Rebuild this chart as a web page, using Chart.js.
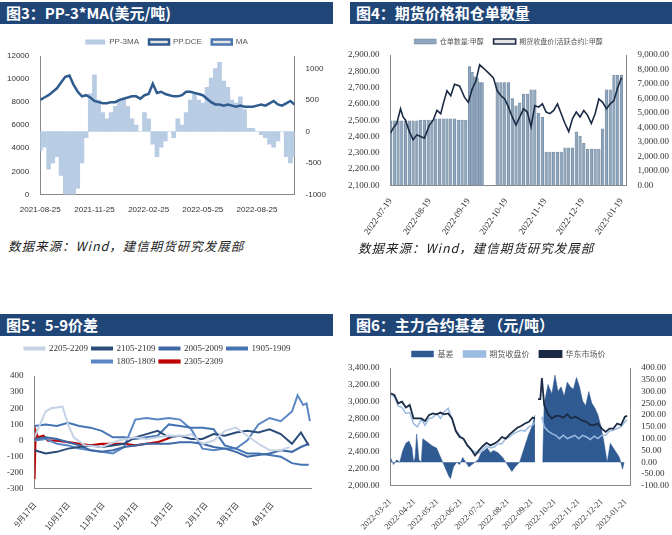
<!DOCTYPE html>
<html>
<head>
<meta charset="utf-8">
<script src="https://cdn.jsdelivr.net/npm/chart.js@4.4.0/dist/chart.umd.min.js"></script>
<style>
  body { margin: 0; width: 672px; height: 535px; background: #fff; position: relative; overflow: hidden; font-family: "Noto Sans CJK SC", sans-serif; }
  .bar { position: absolute; height: 22px; background: #1f4677; color: #fff; font-weight: bold; font-size: 15px; line-height: 22px; padding-left: 6px; box-sizing: border-box; }
  .src { position: absolute; font-size: 12.5px; font-style: italic; color: #222; letter-spacing: 1px; }
  .box { position: absolute; }
</style>
</head>
<body>
<div class="bar" style="left:0;top:2px;width:333px">图3：PP-3*MA(美元/吨)</div>
<div class="bar" style="left:350px;top:2px;width:322px">图4：期货价格和仓单数量</div>
<div class="bar" style="left:0;top:314px;width:333px">图5：5-9价差</div>
<div class="bar" style="left:350px;top:314px;width:322px">图6：主力合约基差 （元/吨）</div>
<div class="box" style="left:0;top:28px;width:333px;height:190px"><canvas id="c1"></canvas></div>
<div class="box" style="left:345px;top:28px;width:327px;height:212px"><canvas id="c2"></canvas></div>
<div class="box" style="left:0;top:340px;width:333px;height:195px"><canvas id="c3"></canvas></div>
<div class="box" style="left:345px;top:340px;width:327px;height:195px"><canvas id="c4"></canvas></div>
<div class="src" style="left:8px;top:236px">数据来源：Wind，建信期货研究发展部</div>
<div class="src" style="left:358px;top:238px">数据来源：Wind，建信期货研究发展部</div>
<script>
// ---------- 图3 data (weekly index from 2021-08-25) ----------
const ppTickWeeks = [0, 13, 26, 39, 52];
const ppTickLabels = ["2021-08-25", "2021-11-25", "2022-02-25", "2022-05-25", "2022-08-25"];
const ppDce = [8200, 8400, 8600, 8900, 9200, 9700, 10200, 10300, 9500, 8900, 8500, 8600, 8400, 8100, 8000, 7900, 7900, 8000, 8000, 8200, 8300, 8400, 8500, 8500, 8300, 8600, 8700, 9600, 8800, 8900, 8700, 8600, 8500, 8500, 8600, 8900, 8900, 8800, 8700, 8600, 8300, 8000, 7800, 7800, 7700, 7800, 7700, 7600, 7700, 7600, 7600, 7600, 7700, 7800, 7700, 7900, 8100, 7800, 7700, 7900, 8100, 7800];
const pp3ma = [-300, -250, -600, -500, -400, -700, -1000, -1000, -1000, -900, -500, -100, 600, 900, 500, 300, 200, 300, 400, 500, 500, 400, 200, 100, 0, 300, 200, -200, -400, -250, -150, 0, -100, 200, 100, 300, 500, 600, 500, 450, 700, 850, 1000, 1100, 800, 700, 500, 450, 550, 350, 50, 50, 0, -50, -100, -200, -250, -150, 0, -400, -500, -400];

// ---------- 图4 data (day offset from 2022-07-19) ----------
const whTickDays = [0, 31, 62, 92, 123, 153, 184];
const whTickLabels = ["2022-07-19", "2022-08-19", "2022-09-19", "2022-10-19", "2022-11-19", "2022-12-19", "2023-01-19"];
const whBarDays = [0, 3, 6, 9, 12, 15, 18, 21, 24, 27, 30, 33, 36, 39, 42, 45, 48, 51, 54, 57, 60, 63, 65, 67, 69, 71, 73, 85, 88, 91, 94, 97, 100, 103, 106, 109, 112, 115, 118, 121, 124, 127, 130, 133, 136, 139, 142, 145, 148, 151, 154, 157, 160, 163, 166, 169, 172, 175, 178, 181, 184];
const whBars = [4450, 4450, 4450, 4450, 4450, 4450, 4450, 4450, 4500, 4500, 4500, 4500, 4600, 4600, 4600, 4600, 4600, 4600, 4500, 4500, 4500, 8200, 7800, 7500, 7400, 7100, 7100, 7100, 7100, 7100, 7100, 6000, 5500, 5700, 6300, 6300, 6600, 6600, 5000, 4700, 2300, 2300, 2300, 2300, 2300, 2600, 2600, 2600, 3700, 3400, 2900, 2500, 2500, 2500, 2500, 3900, 6600, 6600, 7600, 7600, 7600];
const whLineDays = [0, 2, 5, 8, 10, 12, 15, 18, 21, 24, 27, 31, 34, 37, 40, 42, 45, 48, 51, 55, 59, 62, 65, 68, 71, 74, 78, 82, 85, 88, 91, 94, 97, 100, 103, 106, 109, 112, 115, 118, 121, 124, 127, 130, 133, 136, 139, 142, 145, 148, 151, 154, 157, 160, 163, 166, 169, 172, 175, 178, 181, 184];
const whLine = [2420, 2450, 2480, 2570, 2520, 2500, 2430, 2380, 2410, 2400, 2390, 2470, 2500, 2560, 2540, 2600, 2680, 2650, 2720, 2710, 2640, 2610, 2690, 2740, 2840, 2820, 2790, 2760, 2680, 2650, 2630, 2580, 2520, 2470, 2520, 2570, 2550, 2460, 2590, 2580, 2600, 2550, 2540, 2560, 2600, 2540, 2480, 2430, 2510, 2550, 2520, 2560, 2530, 2480, 2540, 2630, 2610, 2570, 2600, 2620, 2700, 2760];

// ---------- 图5 data (day offset from 9月17日) ----------
const sprTickDays = [0, 30, 61, 91, 122, 153, 181, 212];
const sprTickLabels = ["9月17日", "10月17日", "11月17日", "12月17日", "1月17日", "2月17日", "3月17日", "4月17日"];
const d2205 = [0, 5, 10, 15, 25, 30, 35, 45, 60, 75, 90, 100, 110, 120, 135, 140, 150, 160, 170, 180, 190, 200, 210, 220, 228];
const s2205 = [20, 100, 180, 200, 210, 100, 20, -30, -40, 0, 20, 10, 20, 30, 30, 40, -20, 0, 60, 80, 30, -20, -60, -60, -40];
const dStd = [0, 10, 20, 30, 40, 50, 60, 70, 80, 90, 100, 110, 120, 130, 140, 150, 160, 170, 180, 190, 200, 210, 220, 230, 238, 245];
const s2105 = [-60, -80, -70, -50, -40, -30, -40, -30, -20, 20, 40, 60, 20, 30, 10, 10, 40, 30, 50, 60, 50, 70, 40, -20, 50, -30];
const s2005 = [10, 20, 10, -10, -30, -60, -70, -60, -40, -30, -20, -20, -20, -10, -10, -20, -40, -50, -70, -100, -90, -80, -60, -70, -40, -20];
const s1905 = [90, 100, 90, 110, 90, 80, 60, 20, 20, 10, 20, 30, 100, 90, 80, 80, 70, -30, -50, -80, -80, -90, -100, -140, -150, -150];
const d1805 = [0, 10, 20, 30, 40, 50, 60, 70, 80, 90, 100, 110, 120, 130, 140, 150, 160, 170, 180, 190, 200, 210, 220, 230, 235, 240, 243, 246];
const s1805 = [0, 10, -20, -30, -50, -60, -70, -80, -40, 130, 140, 130, 140, 130, 70, -50, -60, -50, -50, 0, 100, 140, 120, 180, 280, 220, 230, 120];
const d2305 = [0, 1, 3, 8, 12, 20, 30, 40, 50, 60, 70, 80, 90, 100, 110, 118, 122];
const s2305 = [-240, 60, 20, 30, 0, 0, -10, -20, -30, -20, -20, -20, -30, -20, -10, 10, 20];

// ---------- 图6 data (day offset from 2022-03-21) ----------
const bsTickDays = [0, 31, 61, 92, 122, 153, 184, 214, 245, 275, 306];
const bsTickLabels = ["2022-03-21", "2022-04-21", "2022-05-21", "2022-06-21", "2022-07-21", "2022-08-21", "2022-09-21", "2022-10-21", "2022-11-21", "2022-12-21", "2023-01-21"];
const basisDays = [0, 4, 8, 12, 16, 20, 24, 28, 30, 32, 34, 37, 40, 42, 46, 50, 54, 60, 64, 68, 72, 76, 78, 82, 86, 90, 94, 98, 102, 106, 110, 114, 118, 122, 126, 130, 134, 140, 146, 150, 154, 158, 162, 168, 172, 176, 180, 184, 188, 190, 198, 200, 205, 210, 214, 218, 222, 226, 230, 234, 238, 242, 246, 250, 254, 258, 262, 266, 270, 274, 278, 282, 286, 290, 294, 298, 302, 304];
const basis = [20, -10, 10, 0, 50, 80, 90, 60, 0, 20, 120, 10, 0, 100, 90, 80, 70, 60, 30, 0, -30, -60, -70, -20, 0, -10, 20, 0, -20, -10, 0, 10, 40, 50, 60, 40, 50, 40, 20, 0, -20, -40, -20, 0, 40, 80, 120, 150, 200, null, 0, 250, 330, 290, 370, 300, 320, 280, 340, 320, 310, 360, 320, 260, 240, 300, 250, 230, 200, 150, 80, 0, 80, 60, 40, 20, -30, 0];
const priceDays = [0, 5, 10, 15, 20, 25, 30, 35, 40, 45, 50, 55, 60, 65, 70, 75, 80, 85, 90, 95, 100, 105, 110, 115, 120, 125, 130, 135, 140, 145, 150, 155, 160, 165, 170, 175, 180, 185, 188, 190, 192, 195, 197, 200, 205, 210, 215, 220, 225, 230, 235, 240, 245, 250, 255, 260, 265, 270, 275, 280, 285, 290, 295, 300, 305, 308];
const futures = [3080, 3060, 2950, 2930, 2860, 2870, 2740, 2700, 2790, 2720, 2800, 2810, 2860, 2800, 2880, 2920, 2800, 2660, 2600, 2550, 2480, 2430, 2400, 2390, 2430, 2470, 2450, 2460, 2500, 2500, 2560, 2580, 2620, 2640, 2660, 2650, 2700, 2720, 2760, null, null, null, 2820, 2700, 2650, 2620, 2600, 2560, 2600, 2560, 2580, 2600, 2560, 2600, 2580, 2550, 2590, 2560, 2600, 2600, 2650, 2660, 2680, 2700, 2760, 2780];
const spot = [3100, 3080, 2980, 3000, 2930, 2960, 2800, 2800, 2800, 2770, 2840, 2860, 2850, 2870, 2850, 2860, 2800, 2650, 2580, 2560, 2480, 2430, 2360, 2420, 2470, 2510, 2480, 2500, 2530, 2580, 2560, 2610, 2650, 2690, 2710, 2740, 2760, 2810, 2800, null, 3030, 3030, 3280, 2960, 2850, 2800, 2830, 2830, 2810, 2850, 2800, 2820, 2800, 2770, 2760, 2720, 2720, 2740, 2680, 2640, 2680, 2680, 2740, 2720, 2820, 2830];

function pts(xs, ys) { return xs.map((x, i) => ({ x: x, y: ys[i] })); }
function fixedTicks(vals) { return function (ax) { ax.ticks = vals.map(v => ({ value: v })); }; }
function labelFor(vals, labels) { return function (v) { const i = vals.indexOf(v); return i < 0 ? "" : labels[i]; }; }
const byIndex = (a, b) => a.datasetIndex - b.datasetIndex;

Chart.defaults.font.family = "'Liberation Serif', serif";
Chart.defaults.font.size = 10;
Chart.defaults.color = "#333";
Chart.defaults.animation = false;
const noGrid = { display: false };
const border = { color: "#888" };
const plain = { responsive: true, maintainAspectRatio: false, animation: false };
const sans8 = { family: "'Liberation Sans', sans-serif", size: 8 };

// 图3
new Chart(document.getElementById("c1"), {
  type: "bar",
  data: {
    datasets: [
      { type: "bar", label: "PP-3MA", data: pts(pp3ma.map((_, i) => i), pp3ma), backgroundColor: "#b8cce4", barThickness: 4, yAxisID: "y1", order: 2 },
      { type: "line", label: "PP.DCE", data: pts(ppDce.map((_, i) => i), ppDce), borderColor: "#2f5b8f", borderWidth: 2.5, pointRadius: 0, yAxisID: "y", order: 1 },
      { type: "line", label: "MA", data: [], borderColor: "#4a77b0", borderWidth: 2.5, pointRadius: 0, yAxisID: "y" }
    ]
  },
  options: {
    ...plain,
    layout: { padding: { left: 4, right: 4 } },
    plugins: { legend: { labels: { sort: byIndex, boxWidth: 20, boxHeight: 5, font: sans8, color: "#555" } }, tooltip: { enabled: false } },
    scales: {
      x: { type: "linear", offset: false, min: 0, max: 61, grid: noGrid, border: border, afterBuildTicks: fixedTicks(ppTickWeeks), ticks: { callback: labelFor(ppTickWeeks, ppTickLabels), maxRotation: 0, font: sans8 } },
      y: { min: 0, max: 12000, grid: noGrid, border: border, ticks: { stepSize: 2000, callback: v => String(v), font: sans8 } },
      y1: { position: "right", min: -1000, max: 1200, grid: noGrid, border: border, afterBuildTicks: fixedTicks([-1000, -500, 0, 500, 1000]), ticks: { callback: v => String(v), font: sans8 } }
    }
  }
});

// 图4
new Chart(document.getElementById("c2"), {
  type: "bar",
  data: {
    datasets: [
      { type: "bar", label: "仓单数量:甲醇", data: pts(whBarDays, whBars), backgroundColor: "#8fa6bd", borderColor: "#6b8198", borderWidth: 0.5, barThickness: 2.6, yAxisID: "y1", order: 2 },
      { type: "line", label: "期货收盘价(活跃合约):甲醇", data: pts(whLineDays, whLine), borderColor: "#1c2b45", borderWidth: 1.6, pointRadius: 0, yAxisID: "y", order: 1 }
    ]
  },
  options: {
    ...plain,
    plugins: { legend: { labels: { sort: byIndex, boxWidth: 22, boxHeight: 5, font: { family: "'Noto Sans CJK SC'", size: 7 }, color: "#555" } }, tooltip: { enabled: false } },
    scales: {
      x: { type: "linear", offset: false, min: 0, max: 188, grid: noGrid, border: border, afterBuildTicks: fixedTicks(whTickDays), ticks: { callback: labelFor(whTickDays, whTickLabels), minRotation: 55, maxRotation: 55, font: { size: 9 } } },
      y: { min: 2100, max: 2900, grid: noGrid, border: border, ticks: { stepSize: 100, autoSkip: false, font: { size: 9 }, callback: v => v.toLocaleString("en-US", { minimumFractionDigits: 2 }) } },
      y1: { position: "right", min: 0, max: 9000, grid: noGrid, border: border, ticks: { stepSize: 1000, autoSkip: false, font: { size: 9 }, callback: v => v.toLocaleString("en-US", { minimumFractionDigits: 2 }) } }
    }
  }
});

// 图5
function spr(label, xs, ys, color, w) {
  return { label: label, data: pts(xs, ys), borderColor: color, backgroundColor: color, borderWidth: w, pointRadius: 0 };
}
new Chart(document.getElementById("c3"), {
  type: "line",
  data: {
    datasets: [
      spr("2205-2209", d2205, s2205, "#c6d3e6", 2),
      spr("2105-2109", dStd, s2105, "#2b4b78", 2),
      spr("2005-2009", dStd, s2005, "#3e69a6", 2),
      spr("1905-1909", dStd, s1905, "#4574b3", 2),
      spr("1805-1809", d1805, s1805, "#5a86c4", 2),
      spr("2305-2309", d2305, s2305, "#c00000", 2.2)
    ]
  },
  options: {
    ...plain,
    layout: { padding: { right: 22, left: 4 } },
    plugins: { legend: { labels: { sort: byIndex, boxWidth: 20, boxHeight: 2, padding: 4, font: { size: 9 } } }, tooltip: { enabled: false } },
    scales: {
      x: { type: "linear", min: 0, max: 247, grid: noGrid, border: border, afterBuildTicks: fixedTicks(sprTickDays), ticks: { callback: labelFor(sprTickDays, sprTickLabels), minRotation: 50, maxRotation: 50, font: { family: "'Noto Sans CJK SC'", size: 8 } } },
      y: { min: -300, max: 400, grid: noGrid, border: border, ticks: { stepSize: 100, autoSkip: false, font: { size: 9 } } }
    }
  }
});

// 图6
new Chart(document.getElementById("c4"), {
  type: "line",
  data: {
    datasets: [
      { label: "基差", data: pts(basisDays, basis), borderColor: "#2f5a92", backgroundColor: "#2f5a92", fill: "origin", borderWidth: 0.5, pointRadius: 0, yAxisID: "y1", order: 3 },
      { label: "期货收盘价", data: pts(priceDays, futures), borderColor: "#9bbbe0", backgroundColor: "#9bbbe0", borderWidth: 1.5, pointRadius: 0, yAxisID: "y", order: 2 },
      { label: "华东市场价", data: pts(priceDays, spot), borderColor: "#1c2b45", backgroundColor: "#1c2b45", borderWidth: 1.8, pointRadius: 0, yAxisID: "y", order: 1 }
    ]
  },
  options: {
    ...plain,
    plugins: { legend: { labels: { sort: byIndex, boxWidth: 22, boxHeight: 6, font: { family: "'Noto Sans CJK SC'", size: 8 }, color: "#555" } }, tooltip: { enabled: false } },
    scales: {
      x: { type: "linear", min: 0, max: 312, grid: noGrid, border: border, afterBuildTicks: fixedTicks(bsTickDays), ticks: { callback: labelFor(bsTickDays, bsTickLabels), minRotation: 45, maxRotation: 45, font: { size: 8.5 } } },
      y: { min: 2000, max: 3400, grid: noGrid, border: border, ticks: { stepSize: 200, autoSkip: false, font: { size: 9 }, callback: v => v.toLocaleString("en-US", { minimumFractionDigits: 2 }) } },
      y1: { position: "right", min: -100, max: 400, grid: noGrid, border: border, ticks: { stepSize: 50, autoSkip: false, font: { size: 9 }, callback: v => v.toFixed(2) } }
    }
  }
});
</script>
</body>
</html>
